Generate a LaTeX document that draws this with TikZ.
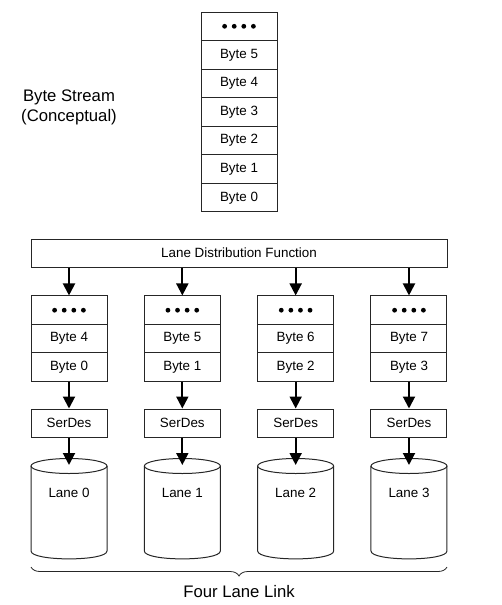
\documentclass[tikz,border=0pt]{standalone}
\usepackage{fontspec}
\setmainfont{Liberation Sans}
\usetikzlibrary{arrows.meta,decorations.pathreplacing,calc}
\begin{document}
\begin{tikzpicture}[x=1pt,y=-1pt,
  cell/.style={draw=black!85,line width=1pt,minimum width=76pt,minimum height=28.5pt,inner sep=0pt,font=\fontsize{13.4}{15}\selectfont,fill=white},
  arr/.style={line width=2pt,-{Triangle[length=12pt,width=12pt]}},
  cyl/.style={draw=black!85,line width=1pt},
  dotfill/.style={fill=black},
  big/.style={font=\fontsize{16.7}{20}\selectfont,align=center,inner sep=0pt}]
\useasboundingbox (0,0) rectangle (501,605);
% top stream
\node[cell] (t9) at (239,26.3) {};
\foreach \k in {-1.5,-0.5,0.5,1.5} \fill[dotfill] ($(t9.center)+(9.6*\k,0)$) circle (2.4);
\foreach \b/\r in {5/1,4/2,3/3,2/4,1/5,0/6}
  \node[cell] (t\b) at (239,{26.3+28.57*\r}) {Byte \b};
\node[big] (bs) at (69,107) {Byte Stream\\(Conceptual)};
% distribution function
\node[cell,minimum width=416pt,minimum height=28pt] (ldf) at (239,253) {Lane Distribution Function};
% lanes
\foreach \i in {0,1,2,3}{
  \pgfmathsetmacro{\cx}{69+113.33*\i}
  \pgfmathtruncatemacro{\hi}{\i+4}
  \node[cell] (d\i) at (\cx,310.2) {};
  \foreach \k in {-1.5,-0.5,0.5,1.5} \fill[dotfill] ($(d\i.center)+(9.6*\k,0)$) circle (2.4);
  \node[cell] (h\i) at (\cx,338.7) {Byte \hi};
  \node[cell] (l\i) at (\cx,367.2) {Byte \i};
  \node[cell,minimum height=28pt] (s\i) at (\cx,423) {SerDes};
  \draw[cyl] (\cx-38,466) -- (\cx-38,551) .. controls (\cx-38,561.5) and (\cx+38,561.5) .. (\cx+38,551) -- (\cx+38,466);
  \draw[cyl] (\cx,466) ellipse (38 and 7.5);
  \coordinate (c\i) at (\cx,465);
  \node[font=\fontsize{13.4}{15}\selectfont] (lane\i) at (\cx,493) {Lane \i};
  \draw[arr] (ldf.south -| d\i) -- (d\i.north);
  \draw[arr] (l\i.south) -- (s\i.north);
  \draw[arr] (s\i.south) -- (c\i);
}
% brace
\draw[decorate,decoration={brace,mirror,amplitude=9pt},line width=0.8pt,black!85] (31,567) -- (447,567);
\node[big] (fll) at (239,592) {Four Lane Link};
\end{tikzpicture}
\end{document}
